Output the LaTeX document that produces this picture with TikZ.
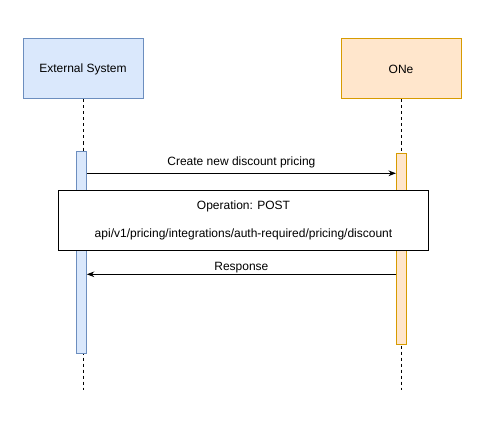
\documentclass[tikz,border=0pt]{standalone}
\usepackage{fontspec}
\setmainfont{Liberation Sans}
\usetikzlibrary{positioning, arrows.meta}

\definecolor{extfill}{HTML}{DAE8FC}
\definecolor{extline}{HTML}{6C8EBF}
\definecolor{onefill}{HTML}{FFE6CC}
\definecolor{oneline}{HTML}{D79B00}

\begin{document}
\begin{tikzpicture}[x=1pt, y=-1pt, >=Stealth, line width=1pt,
  actor/.style={draw, minimum width=120pt, minimum height=60pt, font=\fontsize{12}{14}\selectfont},
  activation/.style={draw, minimum width=9.6pt, inner sep=0pt},
  lifeline/.style={dash pattern=on 3pt off 3pt},
  msg/.style={font=\fontsize{12}{14}\selectfont}]

\useasboundingbox (0,0) rectangle (487,433);

\node[actor, fill=extfill, draw=extline] (ext) at (83,69) {External System};
\node[actor, fill=onefill, draw=oneline] (one) at (401,69) {ONe};

\coordinate (extend) at (83,390);
\coordinate (oneend) at (401,390);

\draw[lifeline] (ext.south) -- (extend);
\draw[lifeline] (one.south) -- (oneend);

\node[activation, fill=extfill, draw=extline, minimum height=202pt] (extact) at (81.5,252.3) {};
\node[activation, fill=onefill, draw=oneline, minimum height=190.6pt] (oneact) at (401.3,249) {};

\coordinate (reqy) at (0,173.3);
\coordinate (respy) at (0,274.3);

\draw[->] (extact.east |- reqy) -- (oneact.west |- reqy)
  node[msg, midway, above=1pt] {Create new discount pricing};

\node[draw, fill=white, minimum width=370.4pt, minimum height=59.6pt, align=center,
  font=\fontsize{12}{14}\selectfont] (op) at (243.5,220.5)
  {Operation: POST\\[14.5pt]api/v1/pricing/integrations/auth-required/pricing/discount};

\draw[->] (oneact.west |- respy) -- (extact.east |- respy)
  node[msg, midway, above=-2.5pt] {Response};

\end{tikzpicture}
\end{document}
